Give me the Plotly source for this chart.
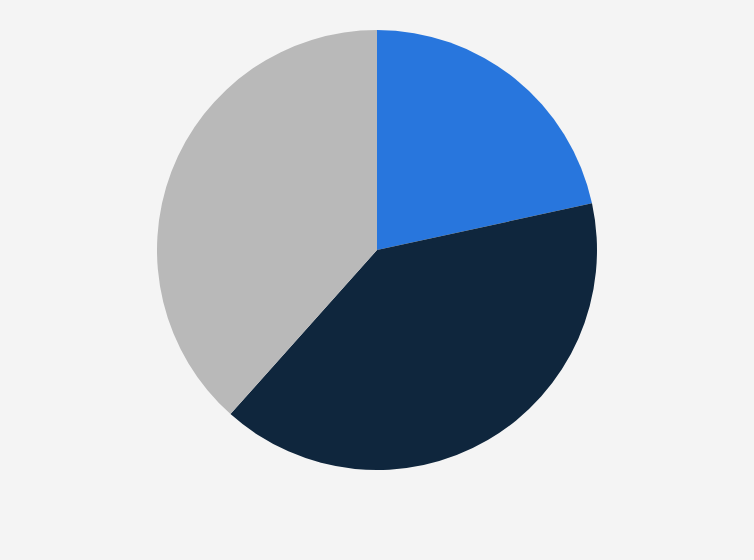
import plotly.graph_objects as go

labels = ["Segment A", "Segment B", "Segment C"]
shares = [21.6, 40.0, 38.4]
colors = ["#2876dd", "#0f263d", "#b9b9b9"]

fig = go.Figure(go.Pie(
    labels=labels,
    values=shares,
    sort=False,
    direction="clockwise",
    rotation=0,
    marker=dict(colors=colors, line=dict(width=0)),
    textinfo="none",
    hoverinfo="label+percent",
    domain=dict(x=[157 / 754, 597 / 754], y=[90 / 560, 530 / 560]),
))

fig.update_layout(
    width=754,
    height=560,
    margin=dict(l=0, r=0, t=0, b=0),
    paper_bgcolor="#f4f4f4",
    plot_bgcolor="#f4f4f4",
    showlegend=False,
)

# drop the default page margin so the figure sits at the top-left corner
fig.write_html(
    "out.html",
    config={"displayModeBar": False},
    post_script="document.body.style.margin='0';document.body.style.overflow='hidden';",
)
